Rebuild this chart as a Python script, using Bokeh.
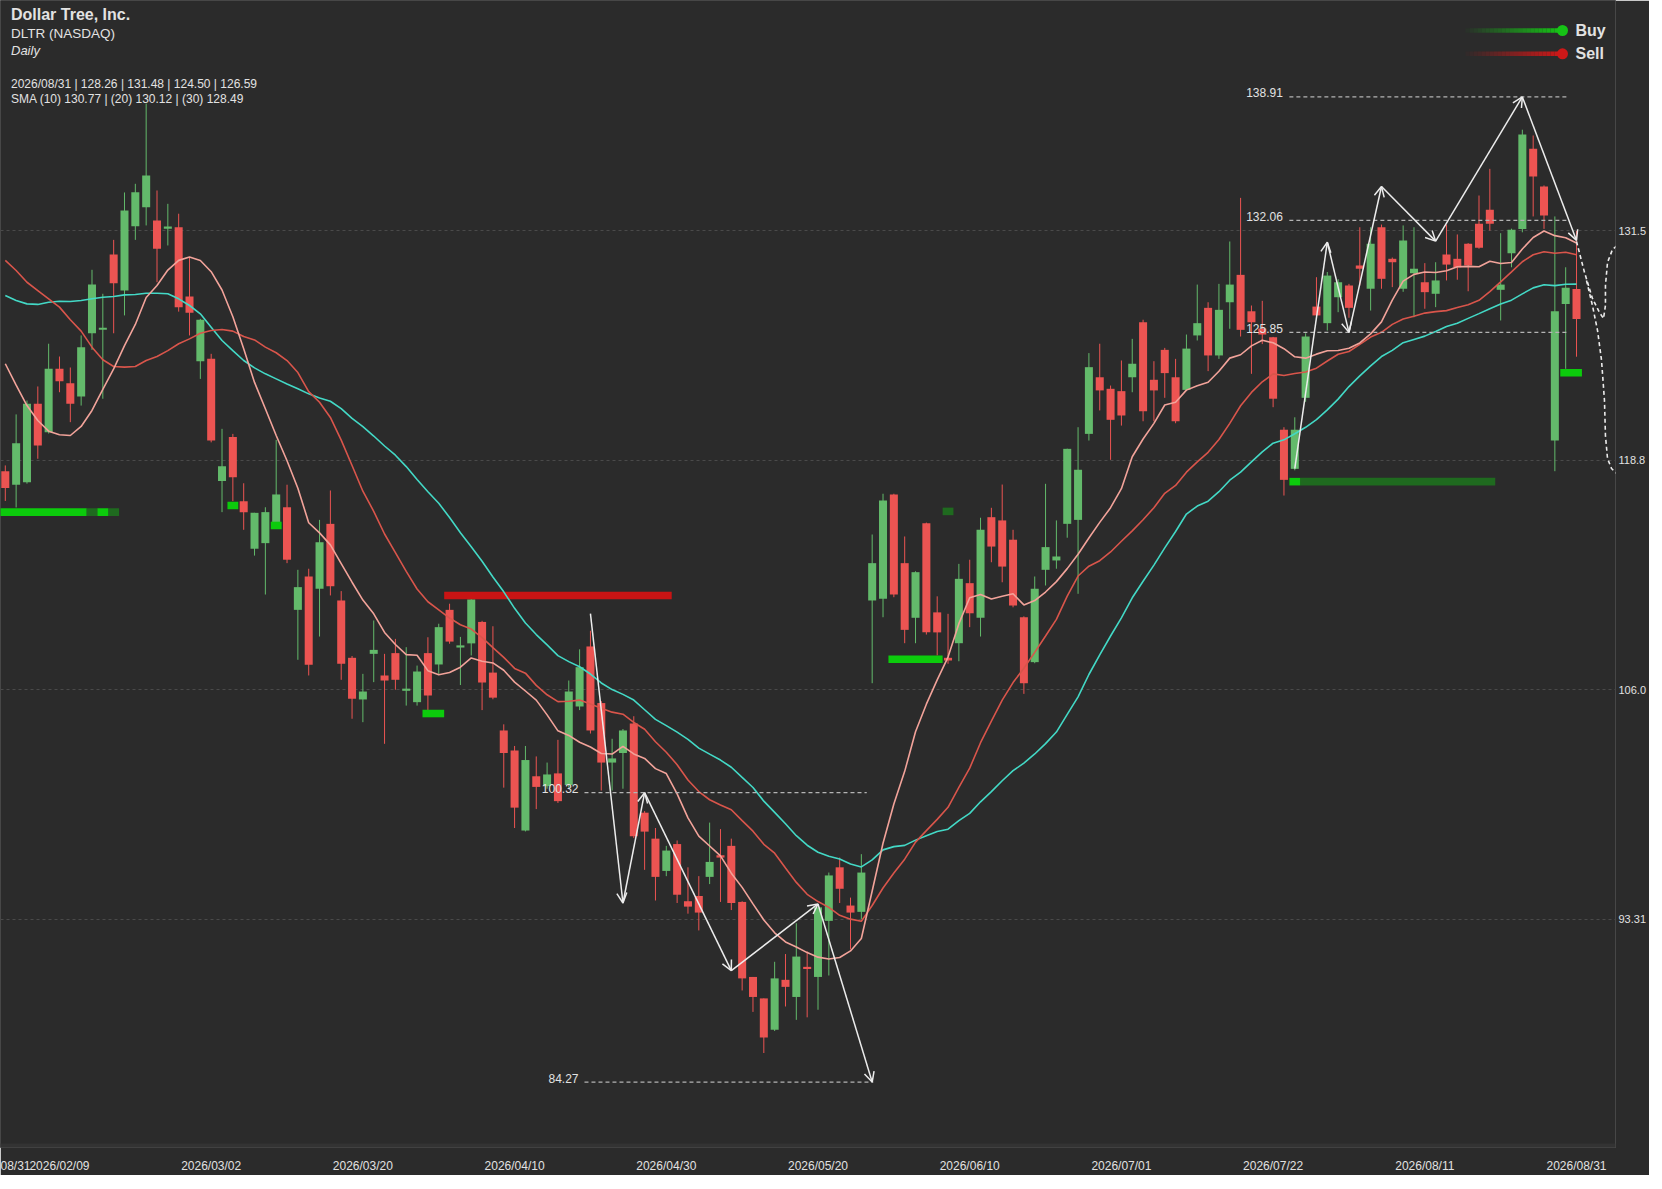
import numpy as np
import pandas as pd
from bokeh.plotting import figure
from bokeh.models import (ColumnDataSource, Range1d, FixedTicker, Label, Arrow, OpenHead,
                          BoxAnnotation, CustomJSTickFormatter)
from bokeh.embed import file_html
from bokeh.resources import INLINE

# ---------------- data ----------------
holidays = ["2026-02-16", "2026-04-03", "2026-05-25", "2026-06-19", "2026-07-03"]
dates = [d.strftime("%Y/%m/%d") for d in pd.bdate_range("2026-02-02", "2026-08-31")
         if d.strftime("%Y-%m-%d") not in holidays]

tick_dates = ["2026/02/09", "2026/03/02", "2026/03/20", "2026/04/10", "2026/04/30", "2026/05/20",
              "2026/06/10", "2026/07/01", "2026/07/22", "2026/08/11", "2026/08/31"]

opens = [118.15, 117.40, 117.54, 121.89, 120.31, 123.83, 123.03, 122.29, 125.80, 126.00,
         130.17, 128.17, 131.74, 132.79, 132.05, 131.62, 131.68, 127.84, 124.25, 124.38,
         117.60, 120.04, 116.49, 113.85, 114.16, 115.27, 116.15, 110.46, 112.31, 111.63,
         115.23, 110.98, 107.80, 105.49, 108.02, 106.82, 108.06, 105.98, 105.34, 108.06,
         107.43, 110.46, 108.38, 108.60, 109.79, 106.98, 103.77, 102.66, 98.22, 101.23,
         100.68, 101.39, 100.74, 105.10, 108.43, 105.29, 101.99, 102.52, 104.16, 99.21,
         97.77, 95.98, 97.47, 94.30, 94.59, 95.65, 96.85, 97.37, 94.26, 90.10,
         88.91, 87.17, 89.94, 88.99, 90.65, 90.10, 93.21, 96.18, 94.06, 93.71,
         110.98, 111.07, 116.86, 113.05, 110.02, 115.27, 110.32, 107.80, 108.61, 111.94,
         110.02, 115.60, 115.42, 114.35, 110.05, 107.56, 112.68, 113.20, 115.23, 115.45,
         120.22, 123.36, 122.72, 122.59, 123.36, 126.41, 123.22, 124.88, 123.36, 122.66,
         125.68, 127.21, 124.57, 127.52, 129.04, 127.02, 126.06, 125.58, 120.45, 118.28,
         122.22, 127.28, 126.36, 127.80, 128.45, 129.56, 128.27, 131.68, 129.93, 128.27,
         129.13, 128.63, 127.99, 130.17, 129.93, 130.76, 131.87, 132.65, 128.21, 130.24,
         131.59, 136.03, 133.94, 119.85, 127.43, 128.26]
highs = [118.47, 121.30, 122.07, 122.85, 125.22, 124.51, 123.90, 125.68, 129.32, 127.99,
         130.98, 133.61, 134.09, 138.54, 133.72, 132.98, 132.43, 130.02, 126.60, 124.66,
         120.50, 120.22, 117.48, 115.84, 116.15, 119.89, 117.40, 112.68, 112.74, 115.45,
         117.08, 111.50, 107.90, 106.91, 109.87, 108.02, 108.85, 108.39, 107.37, 108.94,
         109.69, 110.80, 108.96, 111.43, 109.85, 109.55, 104.11, 102.91, 102.91, 102.33,
         101.99, 103.25, 106.54, 108.27, 109.30, 105.40, 103.31, 103.85, 104.56, 99.30,
         98.36, 97.37, 97.67, 96.18, 95.69, 98.66, 98.30, 97.77, 94.30, 90.10,
         88.91, 90.94, 91.37, 93.08, 91.52, 94.00, 95.89, 96.72, 94.50, 96.91,
         114.64, 116.90, 116.90, 114.53, 112.60, 115.30, 111.21, 110.24, 113.01, 113.24,
         115.57, 116.12, 117.41, 114.90, 110.10, 112.31, 117.45, 115.42, 119.40, 120.59,
         124.70, 125.22, 122.90, 124.29, 125.49, 126.55, 124.25, 124.99, 124.38, 125.73,
         128.50, 127.52, 128.54, 130.89, 133.31, 127.34, 127.60, 125.60, 120.59, 121.14,
         125.80, 128.91, 129.20, 128.80, 128.54, 131.68, 131.68, 131.83, 130.00, 131.78,
         131.68, 129.69, 129.74, 131.83, 131.28, 130.80, 133.44, 134.92, 131.35, 131.60,
         137.09, 136.77, 134.00, 132.28, 129.46, 131.48]
lows = [116.50, 116.14, 117.46, 118.84, 120.24, 122.53, 120.87, 121.79, 124.88, 122.17,
        125.80, 126.79, 130.98, 131.78, 128.63, 130.67, 127.00, 125.68, 123.27, 119.75,
        115.88, 116.49, 114.90, 113.47, 111.31, 114.95, 113.05, 107.69, 106.82, 108.98,
        111.26, 106.58, 104.42, 104.23, 106.45, 103.03, 106.03, 105.15, 105.15, 104.88,
        106.91, 108.58, 106.29, 107.93, 104.90, 105.50, 100.60, 98.36, 98.17, 99.41,
        100.54, 99.75, 100.60, 104.90, 103.60, 100.44, 100.44, 100.54, 97.80, 96.04,
        94.34, 95.69, 94.20, 93.61, 92.68, 95.25, 94.26, 93.81, 89.35, 88.16,
        85.88, 87.10, 88.46, 87.72, 87.86, 88.28, 90.18, 94.20, 91.63, 93.31,
        106.39, 110.05, 111.16, 108.61, 108.61, 109.09, 107.93, 107.47, 107.61, 109.50,
        108.98, 113.10, 111.99, 110.60, 105.80, 107.50, 111.81, 112.74, 114.46, 111.35,
        119.85, 121.52, 118.78, 120.68, 122.53, 120.92, 120.92, 122.22, 120.81, 122.60,
        125.40, 123.70, 124.38, 126.05, 125.62, 123.55, 125.20, 121.70, 116.80, 118.20,
        122.00, 126.70, 125.95, 126.97, 126.66, 128.45, 127.06, 128.27, 128.36, 128.10,
        126.69, 127.16, 127.25, 128.73, 128.77, 128.13, 130.49, 131.50, 126.51, 129.46,
        131.40, 132.28, 131.59, 118.15, 123.83, 124.50]
closes = [117.22, 119.70, 121.89, 119.58, 123.83, 123.14, 121.89, 125.03, 128.50, 126.10,
          128.58, 132.61, 133.62, 134.55, 130.49, 131.70, 127.25, 126.94, 126.55, 119.85,
          118.43, 117.82, 115.88, 115.84, 115.88, 116.86, 113.24, 111.72, 107.41, 114.21,
          111.77, 107.47, 105.53, 105.93, 108.24, 106.54, 106.58, 106.08, 107.04, 105.71,
          109.50, 108.70, 108.48, 111.04, 106.43, 105.59, 102.52, 99.49, 102.13, 100.64,
          101.33, 99.85, 105.93, 107.28, 103.77, 101.99, 102.22, 103.77, 97.91, 98.16,
          95.65, 97.11, 94.66, 94.00, 93.67, 96.48, 96.72, 94.20, 90.02, 88.99,
          86.74, 90.02, 89.55, 91.23, 90.55, 93.96, 95.73, 94.99, 93.67, 95.89,
          113.05, 116.52, 111.31, 109.35, 112.55, 109.22, 109.21, 107.65, 112.18, 110.27,
          114.90, 113.97, 112.86, 110.70, 106.39, 111.63, 113.94, 113.42, 119.39, 118.23,
          123.92, 122.63, 121.00, 121.24, 124.11, 121.48, 122.63, 123.59, 120.92, 124.95,
          126.36, 124.57, 127.10, 128.50, 125.99, 126.41, 125.73, 122.17, 117.67, 120.45,
          125.62, 126.79, 129.00, 128.63, 127.21, 129.38, 130.76, 128.82, 129.74, 130.95,
          129.38, 128.08, 128.73, 129.61, 129.46, 129.56, 130.54, 131.87, 128.50, 131.54,
          136.82, 134.50, 132.33, 127.02, 128.32, 126.59]

# moving-average values before enough in-window closes exist
sma10_head = [124.11, 122.92, 121.79, 120.96, 120.37, 120.17, 120.13, 120.63, 121.52]
sma20_head = [129.84, 129.28, 128.63, 128.17, 127.71, 127.25, 126.55, 125.92, 125.03, 124.33,
              123.96, 123.92, 123.96, 124.29, 124.51, 124.84, 125.22, 125.49, 125.80]
sma30_head = [127.89, 127.62, 127.43, 127.40, 127.52, 127.58, 127.56, 127.62, 127.71, 127.80,
              127.84, 127.93, 127.95, 128.02, 128.02, 127.99, 127.71, 127.34, 126.88, 126.14,
              125.40, 124.84, 124.29, 123.88, 123.55, 123.27, 122.99, 122.72, 122.44]

# signal bars: (first bar, last bar, price)
buy_bars = [(-1, 7, 115.88), (9, 9, 115.88), (21, 21, 116.25), (25, 25, 115.14),
            (39, 40, 104.71), (82, 86, 107.72), (119, 119, 117.57), (144, 145, 123.61)]
buy_zone_bars = [(8, 8, 115.88), (10, 10, 115.88), (87, 87, 115.92), (120, 137, 117.57)]
sell_bars = [(41, 61, 111.26)]

# zigzag wave paths (bar index, price)
wave1_bar = [54, 57, 59, 67, 75, 80]
wave1_price = [110.25, 94.20, 100.32, 90.45, 94.15, 84.27]
wave2_bar = [119, 122, 124, 127, 132, 140, 145]
wave2_price = [118.29, 130.85, 125.85, 133.94, 130.91, 138.91, 130.95]

# dashed price levels
levels_upper = [138.91, 132.06, 125.85]
levels_lower = [100.32, 84.27]

# projected path (dashed), bar position / price
proj_a_bar = [145.0, 145.74, 146.47, 147.12, 147.49, 147.67, 147.67, 147.86, 148.32, 148.97]
proj_a_price = [130.89, 129.17, 127.73, 126.95, 126.62, 127.34, 128.45, 129.73, 130.45, 130.78]
proj_b_bar = [145.92, 146.47, 146.94, 147.31, 147.58, 147.67, 147.86, 148.23, 148.88]
proj_b_price = [128.73, 127.34, 125.95, 124.29, 122.07, 120.13, 118.85, 118.30, 117.91]

y_ticks = [93.31, 106.04, 118.77, 131.50]

# ---------------- helpers (reference pixel -> data) ----------------
def jx(px):
    return (px - 4.8) / 10.836

def vy(py):
    return 131.5 - (py - 230) / 18.03

PX = 1.0 / 18.03  # price per vertical pixel

BG = "#2b2b2b"
GREEN = "#63ba6b"
RED = "#ec5452"
TXT = "#e2e2e2"
FONT = "Liberation Sans"

n = len(closes)
idx = np.arange(n)
o = np.array(opens); c = np.array(closes); h = np.array(highs); l = np.array(lows)

def sma(head, w):
    vals = list(head)
    for i in range(w - 1, n):
        vals.append(float(np.mean(c[i - w + 1:i + 1])))
    return vals

sma10 = sma(sma10_head, 10)
sma20 = sma(sma20_head, 20)
sma30 = sma(sma30_head, 30)

FW, FH = 1615, 1147
p = figure(frame_width=FW, frame_height=FH, min_border_left=0, min_border_top=0,
           min_border_right=1646 - FW, min_border_bottom=1173 - FH,
           x_range=Range1d(jx(0), jx(FW)), y_range=Range1d(vy(FH), vy(0)),
           y_axis_location="right", output_backend="svg", toolbar_location=None,
           background_fill_color=BG, border_fill_color=BG, outline_line_color="#474747")

# axes
p.yaxis.ticker = FixedTicker(ticks=y_ticks)
p.yaxis.formatter = CustomJSTickFormatter(code="return tick < 100 ? tick.toFixed(2) : tick.toFixed(1);")
p.yaxis.axis_line_color = None
p.yaxis.major_tick_line_color = None
p.yaxis.minor_tick_line_color = None
p.yaxis.major_tick_out = 0
p.yaxis.major_tick_in = 0
p.yaxis.major_label_text_color = TXT
p.yaxis.major_label_text_font = FONT
p.yaxis.major_label_text_font_size = "11px"
p.yaxis.major_label_standoff = 3

LEFT_TAG = jx(15)  # position of the partly shown date at the left edge
tick_idx = [LEFT_TAG] + [dates.index(d) for d in tick_dates]
p.xaxis.ticker = FixedTicker(ticks=tick_idx)
p.xaxis.formatter = CustomJSTickFormatter(
    args=dict(labels=dates),
    code="if (Math.abs(tick - Math.round(tick)) > 0.01) { return '08/31'; }"
         " return labels[Math.round(tick)] || '';")
p.xaxis.axis_line_color = None
p.xaxis.major_tick_line_color = None
p.xaxis.minor_tick_line_color = None
p.xaxis.major_tick_out = 0
p.xaxis.major_tick_in = 0
p.xaxis.major_label_text_color = TXT
p.xaxis.major_label_text_font = FONT
p.xaxis.major_label_text_font_size = "12px"
p.xaxis.major_label_standoff = 11

p.xgrid.visible = False
p.ygrid.ticker = FixedTicker(ticks=y_ticks)
p.ygrid.grid_line_color = "#4a4a4a"
p.ygrid.grid_line_dash = "3 3"
p.ygrid.grid_line_width = 1

# bottom strip
p.add_layout(BoxAnnotation(bottom=vy(FH), top=vy(1143), fill_color="#333333", fill_alpha=1,
                           line_color=None))

# candles
col = [GREEN if cc >= oo else RED for oo, cc in zip(o, c)]
top = np.maximum(o, c); bot = np.minimum(o, c)
small = (top - bot) < 0.12
mid = (top + bot) / 2
top = np.where(small, mid + 0.06, top); bot = np.where(small, mid - 0.06, bot)
src = ColumnDataSource(dict(x=idx, o=o, c=c, h=h, l=l, top=top, bot=bot, col=col))
p.segment(x0="x", x1="x", y0="h", y1="l", line_color="col", line_width=1, source=src)
p.vbar(x="x", width=0.74, top="top", bottom="bot", fill_color="col", line_color=None, source=src)

# signal bars
def bars(lst, color):
    left = [a - 0.5 for a, b, v in lst]
    right = [b + 0.5 for a, b, v in lst]
    bt = [v - 0.21 for a, b, v in lst]
    tp = [v + 0.21 for a, b, v in lst]
    p.quad(left=left, right=right, bottom=bt, top=tp, fill_color=color, line_color=None)

bars(buy_zone_bars, "#1f6a1f")
bars(buy_bars, "#0ccb0c")
bars(sell_bars, "#c91414")

# moving averages
p.line(idx, sma30, line_color="#43d9c6", line_width=1.6)
p.line(idx, sma20, line_color="#d9554b", line_width=1.6)
p.line(idx, sma10, line_color="#f2a39a", line_width=1.6)

# dashed levels and labels
LVL = "#b4b4b4"
p.segment(x0=[118.5] * 3, x1=[144.3] * 3, y0=levels_upper, y1=levels_upper,
          line_color=LVL, line_width=1.3, line_dash="4 3")
p.segment(x0=[53.45, 53.45], x1=[79.5, 80.1], y0=levels_lower, y1=levels_lower,
          line_color=LVL, line_width=1.3, line_dash="4 3")
for lv in levels_upper:
    p.add_layout(Label(x=117.9, y=lv + 4 * PX, text=f"{lv:.2f}", text_align="right",
                       text_baseline="middle", text_color=TXT, text_font=FONT,
                       text_font_size="12px"))
for lv in levels_lower:
    p.add_layout(Label(x=52.9, y=lv + 4 * PX, text=f"{lv:.2f}", text_align="right",
                       text_baseline="middle", text_color=TXT, text_font=FONT,
                       text_font_size="12px"))

# zigzag arrows
WHITE = "#ececec"
for bx, pr in ((wave1_bar, wave1_price), (wave2_bar, wave2_price)):
    asrc = ColumnDataSource(dict(x0=bx[:-1], y0=pr[:-1], x1=bx[1:], y1=pr[1:]))
    p.add_layout(Arrow(end=OpenHead(size=10, line_color=WHITE, line_width=1.5),
                       x_start="x0", y_start="y0", x_end="x1", y_end="y1",
                       line_color=WHITE, line_width=1.5, source=asrc))

# projection
p.line(proj_a_bar, proj_a_price, line_color=WHITE, line_width=1.6, line_dash="4 3")
p.line(proj_b_bar, proj_b_price, line_color=WHITE, line_width=1.6, line_dash="4 3")

# legend (Buy / Sell)
for yy, colr, txt in ((30, "#16c316", "Buy"), (53.3, "#cc1818", "Sell")):
    xs = np.linspace(jx(1465), jx(1562), 25)
    for k in range(24):
        p.segment(x0=[xs[k]], x1=[xs[k + 1]], y0=[vy(yy)], y1=[vy(yy)], line_color=colr,
                  line_width=4.5, line_alpha=(k + 1) / 24)
    p.scatter([jx(1562)], [vy(yy)], size=11, fill_color=colr, line_color=None)
    p.add_layout(Label(x=jx(1575), y=vy(yy - 0.5), text=txt, text_align="left",
                       text_baseline="middle", text_color=TXT, text_font=FONT,
                       text_font_size="16px", text_font_style="bold"))

# header texts
def head(text, py, size, style="normal"):
    p.add_layout(Label(x=jx(10.5), y=vy(py), text=text, text_align="left",
                       text_baseline="middle", text_color=TXT, text_font=FONT,
                       text_font_size=size, text_font_style=style))

head("Dollar Tree, Inc.", 14, "16px", "bold")
head("DLTR (NASDAQ)", 32.5, "13.5px")
head("Daily", 49.5, "13px", "italic")
head("2026/08/31 | 128.26 | 131.48 | 124.50 | 126.59", 83.3, "12px")
head("SMA (10) 130.77 | (20) 130.12 | (30) 128.49", 98.8, "12px")

open("out.html", "w").write(file_html(p, INLINE))
